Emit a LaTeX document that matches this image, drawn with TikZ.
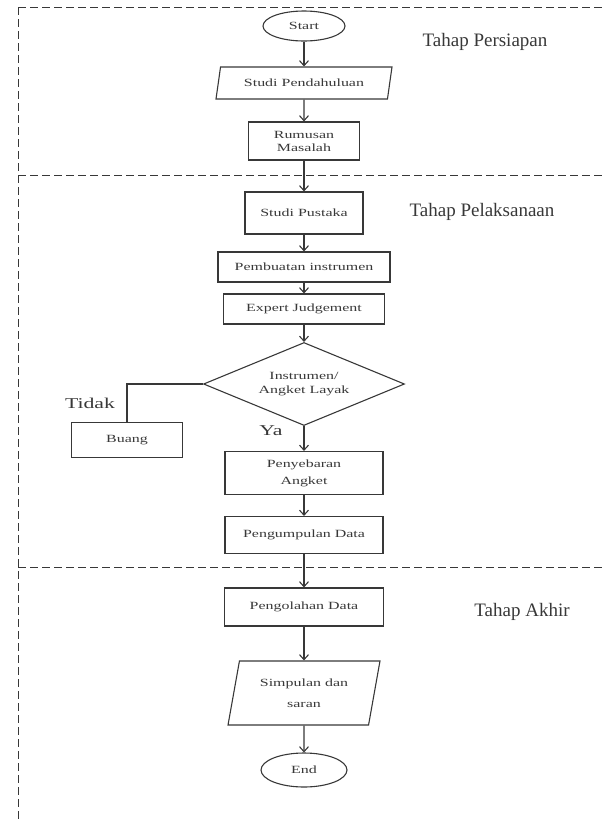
\documentclass[tikz,border=0pt]{standalone}
\usepackage{fontspec}
\setmainfont{Liberation Serif}
\newfontfamily\boxfont[FakeStretch=1.45]{Liberation Serif}
\usetikzlibrary{shapes.geometric,arrows.meta}

\begin{document}
\begin{tikzpicture}[x=1pt, y=-1pt, color=black!78, line width=1.1pt,
    >={Straight Barb[length=5pt,width=9pt]},
    box/.style={draw, rectangle, align=center, inner sep=2pt,
        font=\boxfont\fontsize{11}{13}\selectfont},
    term/.style={box, ellipse},
    io/.style={box, trapezium, trapezium stretches=true},
    decide/.style={box, diamond, aspect=2.4, inner sep=0pt},
    phase/.style={font=\fontsize{19}{22}\selectfont},
    answer/.style={font=\boxfont\fontsize{15}{17}\selectfont},
    sep/.style={line width=1pt, dash pattern=on 8pt off 4pt}]
    \useasboundingbox (0,0) rectangle (604,820);
    % batas tahap
    \draw[sep] (18,7) -- (604,7);
    \draw[sep] (18,175) -- (604,175);
    \draw[sep] (18,567) -- (604,567);
    \draw[sep] (18,7) -- (18,820);
    % tahap persiapan
    \node[term, minimum width=82pt, minimum height=30pt] (start) at (304,26) {Start};
    \node[io, trapezium left angle=74, trapezium right angle=106,
        minimum width=176pt, minimum height=32pt] (pendahuluan) at (304,83) {Studi Pendahuluan};
    \node[box, minimum width=111pt, minimum height=38pt] (rumusan) at (304,141) {Rumusan\\Masalah};
    \node[phase] (persiapan) at (485,42) {Tahap Persiapan};
    % tahap pelaksanaan
    \node[box, minimum width=118pt, minimum height=42pt] (pustaka) at (304,213) {Studi Pustaka};
    \node[box, minimum width=172pt, minimum height=30pt] (pembuatan) at (304,267) {Pembuatan instrumen};
    \node[box, minimum width=161pt, minimum height=30pt] (expert) at (304,309) {Expert Judgement};
    \node[decide, minimum width=201pt, minimum height=83pt] (layak) at (304,384) {Instrumen/\\[1pt]Angket Layak};
    \node[box, minimum width=111pt, minimum height=35pt] (buang) at (127,440) {Buang};
    \node[box, minimum width=158pt, minimum height=43pt] (penyebaran) at (304,473) {Penyebaran\\[4pt]Angket};
    \node[box, minimum width=158pt, minimum height=37pt] (pengumpulan) at (304,535) {Pengumpulan Data};
    \node[answer] (tidak) at (90,403) {Tidak};
    \node[answer] (ya) at (271,431) {Ya};
    \node[phase] (pelaksanaan) at (482,212) {Tahap Pelaksanaan};
    % tahap akhir
    \node[box, minimum width=159pt, minimum height=38pt] (pengolahan) at (304,607) {Pengolahan Data};
    \node[io, trapezium left angle=76, trapezium right angle=104,
        minimum width=152pt, minimum height=64pt] (simpulan) at (304,693) {Simpulan dan\\[8pt]saran};
    \node[term, minimum width=86pt, minimum height=34pt] (end) at (304,770) {End};
    \node[phase] (akhir) at (522,612) {Tahap Akhir};
    % alur
    \draw[->] (start) -- (pendahuluan);
    \draw[->] (pendahuluan) -- (rumusan);
    \draw[->] (rumusan) -- (pustaka);
    \draw[->] (pustaka) -- (pembuatan);
    \draw[->] (pembuatan) -- (expert);
    \draw[->] (expert) -- (layak);
    \draw[->] (layak) -- (penyebaran);
    \draw[->] (penyebaran) -- (pengumpulan);
    \draw[->] (pengumpulan) -- (pengolahan);
    \draw[->] (pengolahan) -- (simpulan);
    \draw[->] (simpulan) -- (end);
    \draw (layak.west) -| (buang.north);
\end{tikzpicture}
\end{document}
